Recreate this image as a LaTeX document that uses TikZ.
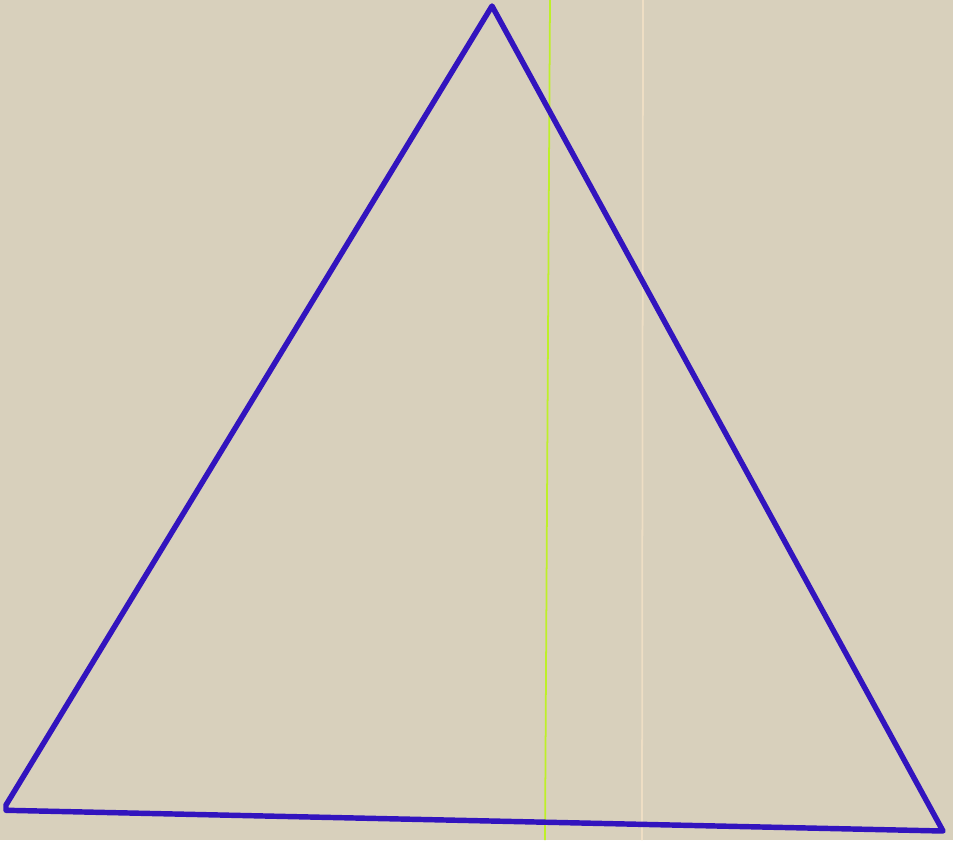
\documentclass[tikz,border=0pt]{standalone}
\usepackage{xcolor}
\usepackage{tikz}
\usetikzlibrary{backgrounds}
\definecolor{papercolor}{RGB}{216, 208, 188}
\definecolor{inkcolor}{RGB}{50, 20, 190}
\definecolor{scancolor}{RGB}{190, 240, 40}
\definecolor{creasecolor}{RGB}{238, 222, 196}
\begin{document}
\begin{tikzpicture}[
  x=0.02cm, y=-0.02cm,
  % --- Styles ---
  inkline/.style={draw=inkcolor, line width=3.1pt, line join=round, line cap=round},
  scanline/.style={draw=#1, line width=1pt},
]
% === PAPER ===
\fill[papercolor] (0,0) rectangle (953,840);
\useasboundingbox (0,0) rectangle (953,840);
% scanner streaks
\draw[scanline=scancolor] (550,0) -- (545,840);
\draw[scanline=creasecolor] (643,0) -- (642,840);
% === TRIANGLE ===
\coordinate (apex) at (492,6);
\coordinate (lowleft) at (6,805);
\coordinate (lowright) at (943,831);
\draw[inkline] (lowleft) -- (apex) -- (lowright) -- ([yshift=-3]lowleft) -- cycle;
\end{tikzpicture}
\end{document}
